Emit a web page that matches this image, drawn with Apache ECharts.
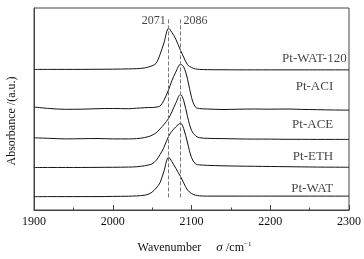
<!DOCTYPE html>
<html>
<head>
<meta charset="utf-8">
<script src="https://cdn.jsdelivr.net/npm/echarts@6/dist/echarts.min.js"></script>
<style>html,body{margin:0;padding:0;background:#fff}#c{width:364px;height:259px}</style>
</head>
<body>
<div id="c"></div>
<script>
// Wavenumbers (cm^-1)
const wavenumbers = [1900,1920,1940,1960,1980,2000,2020,2030,2040,2045,2050,2055,2060,2065,2071,2075,2080,2086,2090,2095,2100,2105,2110,2120,2140,2160,2180,2200,2220,2240,2260,2280,2300];
// Offset absorbance traces (arbitrary units)
const ptWAT = [13.7,13.8,13.8,13.8,13.8,14,14.2,14.5,15.2,16.2,18.5,22.5,28,40,54.3,50,43,34.5,28,20.5,17,15.3,14.6,14.3,14.3,14.3,14.3,14.3,14.3,14.3,14.3,14.3,14.3];
const ptETH = [43.7,43.8,43.8,43.8,43.9,44,44.2,44.5,45.5,46.3,47.5,51,57,64.5,76,81,85.5,89.3,84,69,54,47.5,46.5,46,45.5,45.2,45,44.8,44.6,44.4,44.2,44.1,44];
const ptACE = [74.3,73.8,73.2,73.4,73.6,73.2,73.2,73.5,74.5,75.5,77,79.5,83.5,88,94.5,101,110,119,113,96,82,76.5,74.5,73.8,73.5,73.2,73,73,72.8,72.8,72.7,72.7,72.7];
const ptACI = [106,104.5,103.7,103.8,104.3,104.5,104.3,104.8,105.3,105.5,105.5,106,107,113,124,133,142,150,147.5,134.6,116,106,104.5,104,103.5,103.8,104,103.8,104,103.6,103.3,103,102.8];
const ptWAT120 = [144.7,144.8,144.8,144.8,144.9,145,145.3,145.5,146.2,147.2,148.5,151,160,172,187,183,176,164.5,157.5,149.5,146.8,145.3,144.8,144.5,144.4,144.3,144.3,144.3,144.3,144.3,144.3,144.3,144.3];
// Labels
const seriesNames = ['Pt-WAT','Pt-ETH','Pt-ACE','Pt-ACI','Pt-WAT-120'];
const labelX = [2280,2280,2280,2280,2297];
const labelY = [22.5,55,88,127.5,155.5];
const peakPositions = [2071,2086];
const peakLabels = ['2071','2086'];
const xTicks = [1900,2000,2100,2200,2300];

const traces = [ptWAT, ptETH, ptACE, ptACI, ptWAT120];
const FONT = '"Liberation Serif","Times New Roman",serif';
const chart = echarts.init(document.getElementById('c'), null, {renderer:'canvas'});

const lineSeries = traces.map((arr, i) => ({
  type: 'line',
  name: seriesNames[i],
  data: wavenumbers.map((w, j) => [w, arr[j]]),
  smooth: 0.35,
  showSymbol: false,
  symbol: 'none',
  lineStyle: {color: '#111', width: 1},
  z: 3
}));

const markSeries = {
  type: 'line',
  data: [],
  markLine: {
    silent: true,
    symbol: 'none',
    label: {show: false},
    lineStyle: {color: '#777', type: [4, 2], width: 1},
    data: peakPositions.map(p => [{coord: [p, 13]}, {coord: [p, 197]}])
  }
};

const labelSeries = {
  type: 'scatter',
  symbolSize: 0,
  data: seriesNames.map((n, i) => ({value: [labelX[i], labelY[i]], name: n})),
  label: {
    show: true, position: 'left', distance: 0,
    formatter: p => p.name,
    fontFamily: FONT, fontSize: 13, color: '#111'
  },
  z: 5
};

const peakLabelSeries = {
  type: 'scatter',
  symbolSize: 0,
  data: peakPositions.map((p, i) => ({value: [p, 194.5], name: peakLabels[i],
    label: {position: i === 0 ? 'left' : 'right', distance: 3}})),
  label: {
    show: true,
    formatter: p => p.name,
    fontFamily: FONT, fontSize: 12, color: '#111'
  },
  z: 5
};

chart.setOption({
  animation: false,
  grid: {left: 34, right: 14, top: 8, bottom: 43, show: true, borderColor: '#444', borderWidth: 1},
  graphic: [{
    type: 'text', x: 12, y: 121, rotation: Math.PI / 2,
    style: {text: 'Absorbance /(a.u.)', font: '12px ' + FONT, fill: '#111',
      textAlign: 'center', textVerticalAlign: 'middle'}
  }],
  xAxis: {
    type: 'value', min: 1900, max: 2300, interval: 100,
    axisLine: {lineStyle: {color: '#444', width: 1}},
    axisTick: {inside: true, length: 5, lineStyle: {color: '#444'}},
    minorTick: {show: true, splitNumber: 2, length: 2.5, lineStyle: {color: '#444'}},
    splitLine: {show: false},
    axisLabel: {fontFamily: FONT, fontSize: 12, color: '#111', margin: 6,
      formatter: v => xTicks.includes(v) ? String(v) : ''},
    name: '{a|Wavenumber}{g|}{b|σ} {a|/cm}{s|−1}',
    nameLocation: 'middle', nameGap: 31,
    nameTextStyle: {
      padding: [0, 0, 0, 6],
      rich: {
        a: {fontFamily: FONT, fontSize: 12, color: '#111'},
        g: {width: 15},
        b: {fontFamily: FONT, fontSize: 13, color: '#111', fontStyle: 'italic'},
        s: {fontFamily: FONT, fontSize: 7, color: '#111', verticalAlign: 'top', lineHeight: 10}
      }
    }
  },
  yAxis: {
    type: 'value', min: 0, max: 208,
    axisLine: {show: true, lineStyle: {color: '#444', width: 1}},
    axisTick: {show: false},
    axisLabel: {show: false},
    splitLine: {show: false}
  },
  series: [...lineSeries, markSeries, labelSeries, peakLabelSeries]
});
</script>
</body>
</html>
